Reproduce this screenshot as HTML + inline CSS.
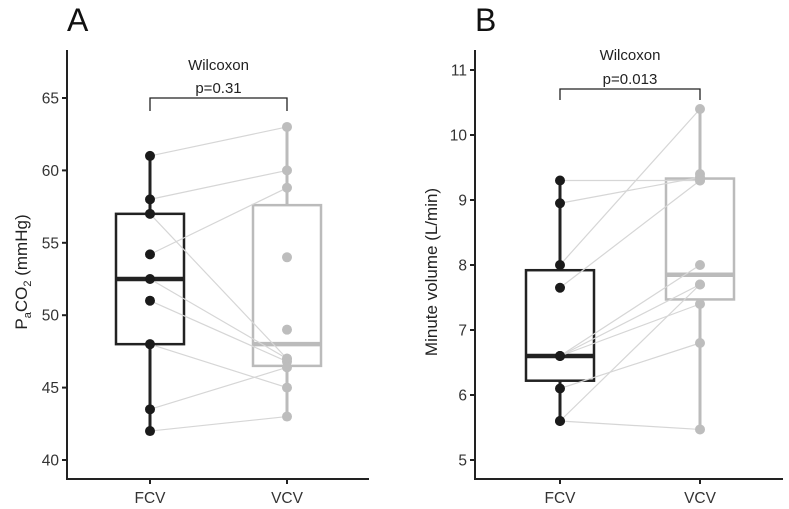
<!DOCTYPE html>
<html><head><meta charset="utf-8"><style>
body{margin:0;background:#fff}
svg{display:block;font-family:"Liberation Sans",sans-serif}
</style></head><body>
<svg id="chart" width="789" height="509" viewBox="0 0 789 509"></svg>
<script>
// Panel A data
const groupsA = ["FCV","VCV"];
const fcvA = [61,58,57,54.2,52.5,51,48,43.5,42];
const vcvA = [63,60,47,58.8,47,46.8,45,46.4,43];
const extraVcvA = [54,49];
const boxFcvA = [42,48,52.5,57,61];
const boxVcvA = [43,46.5,48,57.6,63];
const ticksA = [40,45,50,55,60,65];
// Panel B data
const groupsB = ["FCV","VCV"];
const fcvB = [9.3,8.95,8.0,7.65,6.6,6.6,6.6,6.1,5.6,5.6];
const vcvB = [9.3,9.35,10.4,9.3,8.0,7.7,7.4,6.8,5.47,7.7];
const extraVcvB = [9.4];
const boxFcvB = [5.6,6.22,6.6,7.92,9.3];
const boxVcvB = [5.47,7.47,7.85,9.33,10.4];
const ticksB = [5,6,7,8,9,10,11];

const svg=document.getElementById('chart');
const NS="http://www.w3.org/2000/svg";
function el(tag,attrs,parent){const e=document.createElementNS(NS,tag);for(const k in attrs)e.setAttribute(k,attrs[k]);(parent||svg).appendChild(e);return e;}
function txt(s,attrs,parent){const e=el('text',attrs,parent);e.textContent=s;return e;}

function panel(o){
  const g=el('g',{});
  
  
  const y=v=>o.y0+(v-o.v0)*(o.y1-o.y0)/(o.v1-o.v0);
  const xs=[o.xF,o.xV];
  const ya=el('line',{x1:o.ax,y1:50,x2:o.ax,y2:479,stroke:'#222','stroke-width':2},g);
  
  const xa=el('line',{x1:o.ax-1,y1:479,x2:o.axEnd,y2:479,stroke:'#222','stroke-width':2},g);
  
  o.ticks.forEach(t=>{
    el('line',{x1:o.ax-5,y1:y(t),x2:o.ax,y2:y(t),stroke:'#222','stroke-width':2},g);
    const l=txt(String(t),{x:o.ax-8,y:y(t)+5.5,'text-anchor':'end','font-size':15.5,fill:'#333'},g);
    
  });
  o.groups.forEach((c,i)=>{
    el('line',{x1:xs[i],y1:479,x2:xs[i],y2:484,stroke:'#222','stroke-width':2},g);
    const l=txt(c,{x:xs[i],y:503,'text-anchor':'middle','font-size':15.5,fill:'#333'},g);
    
  });
  [[o.boxF,o.xF,'#222'],[o.boxV,o.xV,'#bbb']].forEach(([b,x,col],i)=>{
    const bg=el('g',{},g);
    
    el('line',{x1:x,y1:y(b[0]),x2:x,y2:y(b[1]),stroke:col,'stroke-width':3},bg);
    el('line',{x1:x,y1:y(b[3]),x2:x,y2:y(b[4]),stroke:col,'stroke-width':3},bg);
    el('rect',{x:x-34,y:y(b[3]),width:68,height:y(b[1])-y(b[3]),fill:'none',stroke:col,'stroke-width':2.5},bg);
    el('line',{x1:x-34,y1:y(b[2]),x2:x+34,y2:y(b[2]),stroke:col,'stroke-width':4.5},bg);
  });
  o.f.forEach((v,i)=>{
    const l=el('line',{x1:o.xF,y1:y(v),x2:o.xV,y2:y(o.v[i]),stroke:'#d6d6d6','stroke-width':1.2},g);
    
  });
  o.f.forEach(v=>{const c=el('circle',{cx:o.xF,cy:y(v),r:5,fill:'#1a1a1a'},g);
    });
  o.v.concat(o.extra).forEach(v=>{const c=el('circle',{cx:o.xV,cy:y(v),r:5,fill:'#bdbdbd'},g);
    });
  const br=el('path',{d:`M${o.xF} ${o.brB} V${o.brT} H${o.xV} V${o.brB}`,fill:'none',stroke:'#222','stroke-width':1.3},g);
  
  const w=txt('Wilcoxon',{x:(o.xF+o.xV)/2,y:o.wy,'text-anchor':'middle','font-size':15,fill:'#222'},g);
  
  const p=txt(o.p,{x:(o.xF+o.xV)/2,y:o.py,'text-anchor':'middle','font-size':15,fill:'#222'},g);
  
  const L=txt(o.letter,{x:o.ax,y:31,'font-size':32,fill:'#111'},g);
  
  return {g,y};
}
const A=panel({name:'panel-a',ax:67,axEnd:369,xF:150,xV:287,v0:40,y0:460,v1:65,y1:98,ticks:ticksA,groups:groupsA,
  f:fcvA,v:vcvA,extra:extraVcvA,boxF:boxFcvA,boxV:boxVcvA,brT:98,brB:111,wy:70,py:93,p:'p=0.31',letter:'A'});
const B=panel({name:'panel-b',ax:475,axEnd:783,xF:560,xV:700,v0:5,y0:460,v1:10,y1:135,ticks:ticksB,groups:groupsB,
  f:fcvB,v:vcvB,extra:extraVcvB,boxF:boxFcvB,boxV:boxVcvB,brT:89,brB:100,wy:60,py:84,p:'p=0.013',letter:'B'});
const ta=el('text',{x:0,y:0,'font-size':17,fill:'#222','text-anchor':'middle',transform:'translate(27,272) rotate(-90)'});

ta.innerHTML='P<tspan font-size="11" dy="4">a</tspan><tspan dy="-4">CO</tspan><tspan font-size="11" dy="4">2</tspan><tspan dy="-4"> (mmHg)</tspan>';
const tb=txt('Minute volume (L/min)',{x:0,y:0,'font-size':17,fill:'#222','text-anchor':'middle',transform:'translate(437,272) rotate(-90)'});

</script>
</body></html>
